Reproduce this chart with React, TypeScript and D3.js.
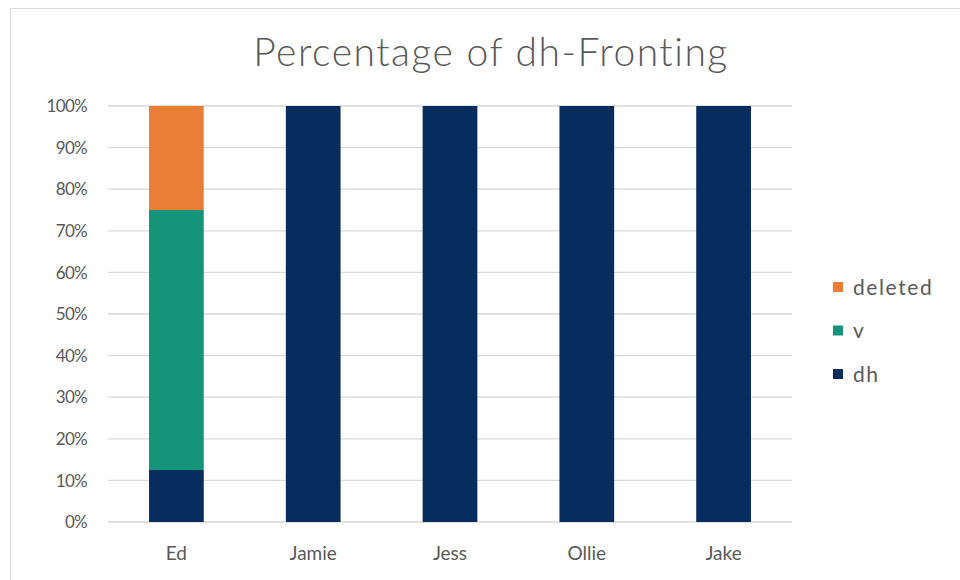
import React, { useEffect, useRef } from 'react';
import * as d3 from 'd3';

const speakers = ['Ed', 'Jamie', 'Jess', 'Ollie', 'Jake'];
const seriesNames = ['dh', 'v', 'deleted'];
const dhValues = [12.5, 100, 100, 100, 100];
const vValues = [62.5, 0, 0, 0, 0];
const deletedValues = [25, 0, 0, 0, 0];
const yTicks = [0, 10, 20, 30, 40, 50, 60, 70, 80, 90, 100];
const colors = ['#062d5e', '#169479', '#e97f37'];

function App() {
  const ref = useRef<SVGSVGElement>(null);

  useEffect(() => {
    const svg = d3.select(ref.current);
    svg.selectAll('*').remove();

    const font = 'Lato, "DejaVu Sans", sans-serif';
    const textColor = '#595959';

    // chart frame
    svg.append('rect')
      .attr('x', 10.5).attr('y', 8.5)
      .attr('width', 980).attr('height', 600)
      .attr('fill', '#fff').attr('stroke', '#d9d9d9');

    svg.append('text')
      .attr('x', 491).attr('y', 66)
      .attr('text-anchor', 'middle')
      .attr('font-family', font)
      .attr('font-weight', 300)
      .attr('font-size', 39)
      .attr('letter-spacing', 1.5)
      .attr('fill', textColor)
      .text('Percentage of dh-Fronting');

    const x = d3.scaleBand().domain(speakers).range([108, 792]).paddingInner(0.6).paddingOuter(0.3);
    const y = d3.scaleLinear().domain([0, 100]).range([522, 106]);

    // gridlines
    svg.append('g').selectAll('line').data(yTicks).join('line')
      .attr('x1', 108).attr('x2', 792)
      .attr('y1', d => y(d)).attr('y2', d => y(d))
      .attr('stroke', '#d9d9d9').attr('stroke-width', 1.3);

    svg.append('g').selectAll('text').data(yTicks).join('text')
      .attr('x', 87).attr('y', d => y(d))
      .attr('dy', '0.36em')
      .attr('text-anchor', 'end')
      .attr('font-family', font)
      .attr('font-size', 17)
      .attr('letter-spacing', -0.7)
      .attr('fill', textColor)
      .text(d => d + '%');

    const rows = speakers.map((s, i) => ({ speaker: s, dh: dhValues[i], v: vValues[i], deleted: deletedValues[i] }));
    const stacked = d3.stack<any>().keys(seriesNames)(rows);

    svg.append('g').selectAll('g').data(stacked).join('g')
      .attr('fill', (d, i) => colors[i])
      .selectAll('rect').data(d => d).join('rect')
      .attr('x', d => x(d.data.speaker)!)
      .attr('width', x.bandwidth())
      .attr('y', d => y(d[1]))
      .attr('height', d => y(d[0]) - y(d[1]));

    svg.append('g').selectAll('text').data(speakers).join('text')
      .attr('x', d => x(d)! + x.bandwidth() / 2)
      .attr('y', 560)
      .attr('text-anchor', 'middle')
      .attr('font-family', font)
      .attr('font-size', 19)
      .attr('fill', textColor)
      .text(d => d);

    // legend, reversed like the stack
    const legendItems = seriesNames.map((n, i) => ({ name: n, color: colors[i] })).reverse();
    const legendY = d3.scalePoint().domain(legendItems.map(d => d.name)).range([287, 374]);
    const lg = svg.append('g').selectAll('g').data(legendItems).join('g')
      .attr('transform', d => `translate(833,${legendY(d.name)})`);
    lg.append('rect').attr('x', 0).attr('y', -5).attr('width', 10).attr('height', 10).attr('fill', d => d.color);
    lg.append('text')
      .attr('x', 20).attr('dy', '0.36em')
      .attr('font-family', font)
      .attr('font-size', 21)
      .attr('letter-spacing', 1.6)
      .attr('fill', textColor)
      .text(d => d.name);
  }, []);

  return (
    <svg ref={ref} width={960} height={580}
      style={{ position: 'absolute', left: 0, top: 0, background: '#fff' }} />
  );
}

export default App;
